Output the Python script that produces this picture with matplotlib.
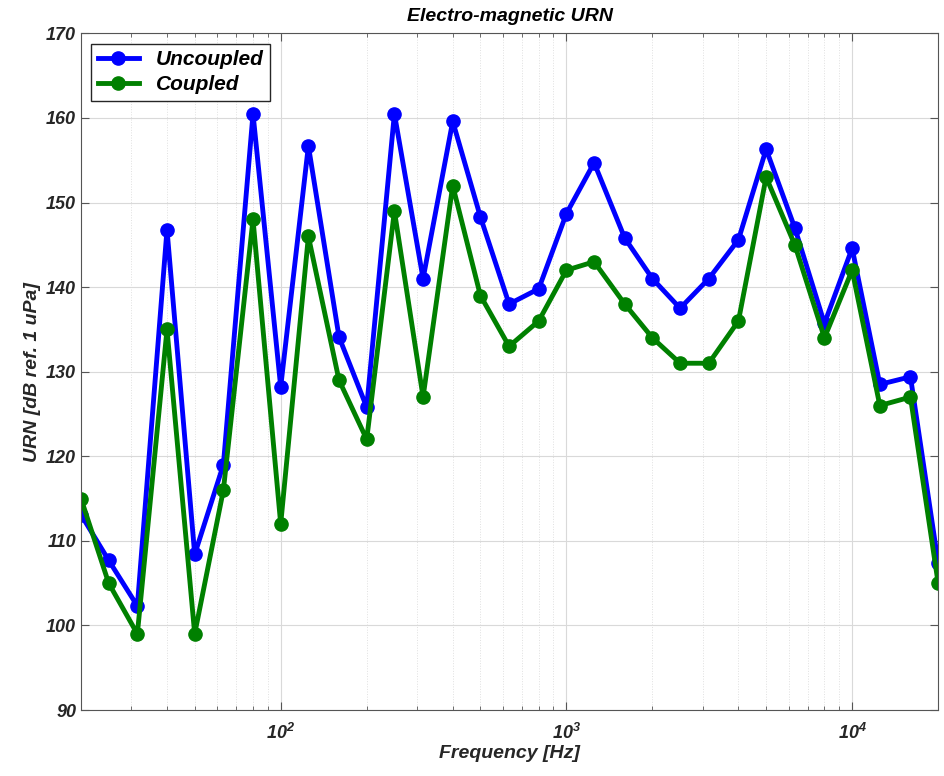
import matplotlib
matplotlib.use('Agg')
import matplotlib.pyplot as plt
from matplotlib.ticker import LogLocator, NullFormatter

plt.rcParams['font.family'] = 'Liberation Sans'
plt.rcParams['font.weight'] = 'bold'
plt.rcParams['font.style'] = 'italic'
plt.rcParams['axes.labelweight'] = 'bold'
plt.rcParams['axes.titleweight'] = 'bold'
plt.rcParams['font.size'] = 13

# one-third octave band centres
freq = [20, 25, 31.5, 40, 50, 63, 80, 100, 125, 160, 200, 250, 315, 400, 500,
        630, 800, 1000, 1250, 1600, 2000, 2500, 3150, 4000, 5000, 6300, 8000,
        10000, 12500, 16000, 20000]
uncoupled = [113.1, 107.7, 102.3, 146.8, 108.4, 119.0, 160.5, 128.2, 156.7,
             134.1, 125.8, 160.5, 141.0, 159.6, 148.3, 138.0, 139.8, 148.7,
             154.7, 145.8, 141.0, 137.5, 141.0, 145.6, 156.3, 147.0, 135.7,
             144.6, 128.5, 129.4, 107.4]
coupled = [115, 105, 99, 135, 99, 116, 148, 112, 146, 129, 122, 149, 127, 152,
           139, 133, 136, 142, 143, 138, 134, 131, 131, 136, 153, 145, 134,
           142, 126, 127, 105]

fig = plt.figure(figsize=(9.44, 7.76), dpi=100)
ax = fig.add_axes([0.0858, 0.085, 0.908, 0.872])

ax.semilogx(freq, uncoupled, '-o', color='#0000ff', lw=3.5, ms=9.5, label='Uncoupled')
ax.semilogx(freq, coupled, '-o', color='#008000', lw=3.5, ms=9.5, label='Coupled')

ax.set_xlim(20, 20000)
ax.set_ylim(90, 170)
ax.set_yticks(range(90, 171, 10))
ax.xaxis.set_minor_locator(LogLocator(base=10, subs=range(2, 10), numticks=20))
ax.xaxis.set_minor_formatter(NullFormatter())

ax.grid(True, which='major', color='#d9d9d9', lw=0.8)
ax.grid(True, which='minor', color='#e0e0e0', lw=0.7, ls=':')
ax.set_axisbelow(True)
ax.tick_params(which='both', direction='in', top=True, right=True, colors='#555555',
               labelcolor='#262626', labelsize=13)
ax.tick_params(which='major', length=6)
ax.tick_params(which='minor', length=3)
ax.tick_params(axis='x', pad=9)
for s in ax.spines.values():
    s.set_color('#555555')

ax.set_xlabel('Frequency [Hz]', fontsize=14, color='#262626', labelpad=2)
ax.set_ylabel('URN [dB ref. 1 uPa]', fontsize=14, color='#262626')
ax.set_title('Electro-magnetic URN', fontsize=14, pad=9)

leg = ax.legend(loc='upper left', fontsize=15, fancybox=False, framealpha=1,
                edgecolor='#262626', handlelength=2.0, borderpad=0.3,
                labelspacing=0.3)
leg.get_frame().set_linewidth(1.0)

fig.savefig('out.png', dpi=100)
